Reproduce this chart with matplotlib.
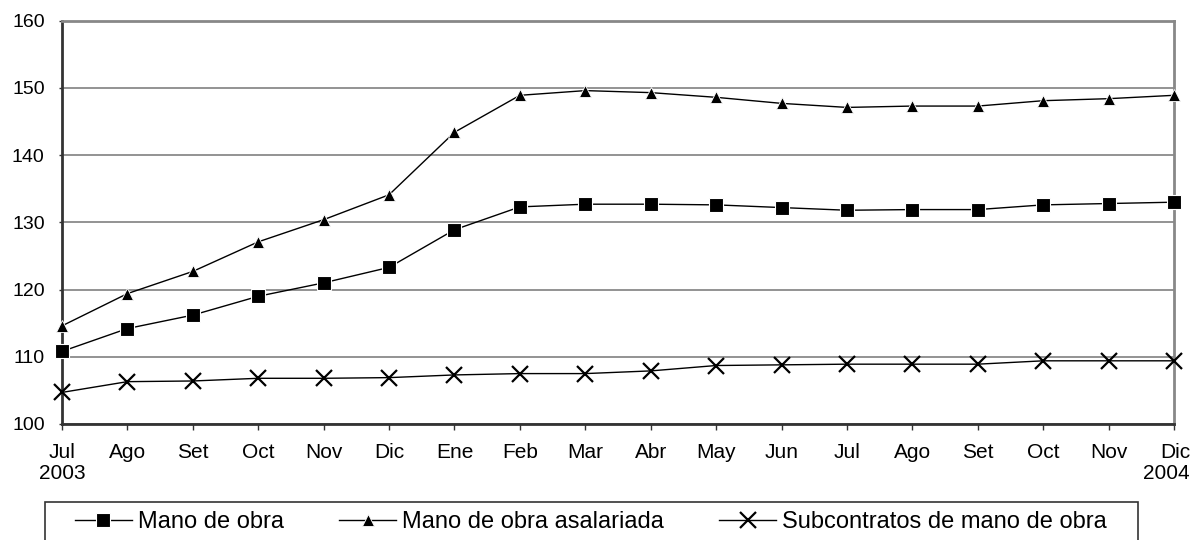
import numpy as np
import matplotlib.pyplot as plt
from matplotlib.patches import Rectangle
from matplotlib.transforms import ScaledTranslation

plt.rcParams['font.family'] = ['Liberation Sans', 'DejaVu Sans']

months = ["Jul\n2003", "Ago", "Set", "Oct", "Nov", "Dic", "Ene", "Feb", "Mar",
          "Abr", "May", "Jun", "Jul", "Ago", "Set", "Oct", "Nov", "Dic\n2004"]

mano_obra = [110.8, 114.2, 116.2, 119.0, 121.0, 123.3, 128.9, 132.3, 132.7,
             132.7, 132.6, 132.2, 131.8, 131.9, 131.9, 132.6, 132.8, 133.0]
asalariada = [114.6, 119.4, 122.7, 127.1, 130.4, 134.1, 143.4, 148.9, 149.6,
              149.3, 148.6, 147.7, 147.1, 147.3, 147.3, 148.1, 148.4, 148.9]
subcontratos = [104.7, 106.3, 106.4, 106.8, 106.8, 106.9, 107.3, 107.5, 107.5,
                107.9, 108.7, 108.8, 108.9, 108.9, 108.9, 109.4, 109.4, 109.4]

W, H = 1192, 540
fig = plt.figure(figsize=(W / 100, H / 100), dpi=100)
# plot area in pixels: x 62..1174, y 20.7..424 (from top)
ax = fig.add_axes([62 / W, (H - 424) / H, (1174 - 62) / W, (424 - 20.7) / H])

x = np.arange(len(months))

ax.plot(x, mano_obra, color='black', lw=1, marker='s', ms=9.5,
        mec='white', mew=0.8, clip_on=False, zorder=3, label='Mano de obra')
ax.plot(x, asalariada, color='black', lw=1, marker='^', ms=8.5,
        mec='white', mew=0.6, clip_on=False, zorder=3, label='Mano de obra asalariada')
ax.plot(x, subcontratos, color='black', lw=1, marker='x', ms=12,
        mew=1.6, clip_on=False, zorder=3, label='Subcontratos de mano de obra')

ax.set_xlim(0, len(months) - 1)
ax.set_ylim(100, 160)
ax.set_yticks(np.arange(100, 161, 10))
ax.set_xticks(x)
ax.set_xticklabels(months, fontsize=15, linespacing=1.12)
ax.tick_params(axis='y', labelsize=14)
ax.yaxis.grid(True, color='#808080', lw=1.2)
ax.set_axisbelow(True)

for s in ['top', 'right']:
    ax.spines[s].set_color('#888888')
    ax.spines[s].set_linewidth(2)
for s in ['left', 'bottom']:
    ax.spines[s].set_color('#333333')
    ax.spines[s].set_linewidth(2)

ax.tick_params(axis='x', direction='out', length=4, width=1, color='#333333', pad=10)
ax.tick_params(axis='y', direction='out', length=2.5, width=1, color='#333333', pad=10)

# last label is pushed in so it stays inside the picture, right aligned
last = ax.get_xticklabels()[-1]
last.set_horizontalalignment('right')
last.set_multialignment('right')
last.set_transform(last.get_transform() + ScaledTranslation(0.16, 0, fig.dpi_scale_trans))

# legend box (bottom edge runs off the figure as in the original)
fig.patches.append(Rectangle((45 / W, -0.02), (1138 - 45) / W, (H - 502) / H + 0.02,
                             transform=fig.transFigure, fill=False,
                             edgecolor='#333333', lw=1.2))
fig.legend(loc='center', bbox_to_anchor=(591 / W, (H - 522) / H), ncol=3,
           frameon=False, fontsize=17, handlelength=2.4, handletextpad=0.26,
           columnspacing=2.35, borderpad=0)

fig.savefig('out.png', dpi=100)
